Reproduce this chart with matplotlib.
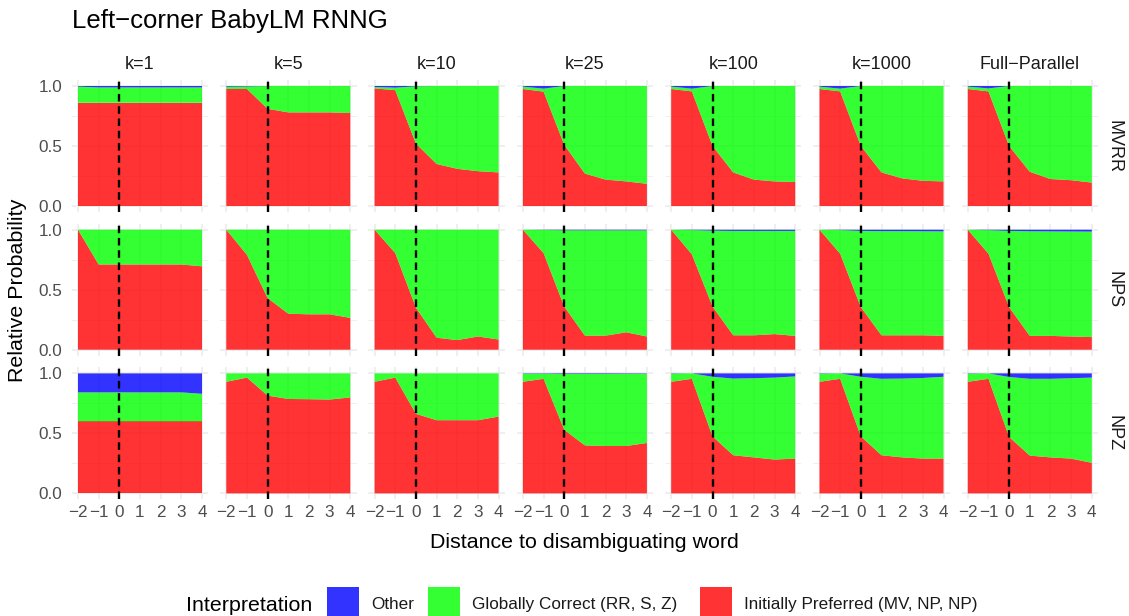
import numpy as np
import matplotlib.pyplot as plt
from matplotlib.patches import Rectangle

plt.rcParams['font.family'] = ['Liberation Sans', 'DejaVu Sans']

W, H = 1129, 616

x = [-2, -1, 0, 1, 2, 3, 4]
models = ['k=1', 'k=5', 'k=10', 'k=25', 'k=100', 'k=1000', 'Full\u2212Parallel']
constructions = ['MVRR', 'NPS', 'NPZ']

# initially preferred interpretation (MV, NP, NP), one list per model
mvrr_preferred = [
    [0.86, 0.86, 0.86, 0.86, 0.86, 0.86, 0.86],
    [0.975, 0.975, 0.81, 0.78, 0.78, 0.78, 0.775],
    [0.98, 0.965, 0.52, 0.35, 0.31, 0.29, 0.28],
    [0.975, 0.953, 0.51, 0.27, 0.22, 0.205, 0.185],
    [0.975, 0.955, 0.50, 0.28, 0.22, 0.205, 0.20],
    [0.975, 0.955, 0.50, 0.28, 0.23, 0.21, 0.205],
    [0.975, 0.955, 0.50, 0.285, 0.225, 0.215, 0.195],
]
nps_preferred = [
    [1.0, 0.71, 0.71, 0.71, 0.71, 0.71, 0.695],
    [1.0, 0.79, 0.43, 0.30, 0.295, 0.295, 0.265],
    [1.0, 0.805, 0.35, 0.10, 0.08, 0.11, 0.085],
    [1.0, 0.805, 0.36, 0.117, 0.117, 0.145, 0.11],
    [1.0, 0.795, 0.36, 0.12, 0.12, 0.13, 0.115],
    [1.0, 0.80, 0.355, 0.12, 0.12, 0.12, 0.115],
    [1.0, 0.80, 0.355, 0.115, 0.115, 0.11, 0.105],
]
npz_preferred = [
    [0.60, 0.60, 0.60, 0.60, 0.60, 0.60, 0.60],
    [0.93, 0.965, 0.815, 0.787, 0.785, 0.782, 0.80],
    [0.93, 0.965, 0.663, 0.61, 0.61, 0.61, 0.64],
    [0.93, 0.955, 0.53, 0.40, 0.395, 0.395, 0.42],
    [0.93, 0.955, 0.475, 0.318, 0.30, 0.282, 0.29],
    [0.93, 0.955, 0.475, 0.318, 0.30, 0.29, 0.29],
    [0.93, 0.955, 0.47, 0.315, 0.30, 0.29, 0.255],
]

# "other" interpretation; globally correct is the remainder
mvrr_other = [
    [0.005, 0.012, 0.012, 0.012, 0.012, 0.012, 0.012],
    [0.006, 0.004, 0.0, 0.0, 0.0, 0.0, 0.0],
    [0.008, 0.014, 0.002, 0.0, 0.0, 0.0, 0.0],
    [0.005, 0.022, 0.0, 0.0, 0.0, 0.0, 0.0],
    [0.005, 0.022, 0.0, 0.0, 0.0, 0.0, 0.0],
    [0.005, 0.022, 0.0, 0.0, 0.0, 0.0, 0.0],
    [0.005, 0.02, 0.0, 0.0, 0.0, 0.0, 0.0],
]
nps_other = [
    [0.0, 0.0, 0.0, 0.0, 0.0, 0.0, 0.0],
    [0.0, 0.0, 0.0, 0.0, 0.0, 0.0, 0.0],
    [0.0, 0.0, 0.0, 0.0, 0.0, 0.0, 0.0],
    [0.0, 0.002, 0.005, 0.005, 0.005, 0.005, 0.005],
    [0.0, 0.003, 0.008, 0.01, 0.01, 0.01, 0.01],
    [0.0, 0.003, 0.01, 0.012, 0.012, 0.013, 0.014],
    [0.0, 0.004, 0.01, 0.013, 0.014, 0.015, 0.016],
]
npz_other = [
    [0.158, 0.158, 0.158, 0.158, 0.158, 0.158, 0.17],
    [0.0, 0.0, 0.0, 0.0, 0.0, 0.0, 0.0],
    [0.0, 0.0, 0.0, 0.0, 0.0, 0.0, 0.0],
    [0.003, 0.003, 0.005, 0.005, 0.005, 0.004, 0.003],
    [0.003, 0.0, 0.028, 0.043, 0.04, 0.035, 0.025],
    [0.003, 0.0, 0.028, 0.045, 0.043, 0.038, 0.028],
    [0.003, 0.0, 0.03, 0.045, 0.045, 0.04, 0.035],
]

preferred = [mvrr_preferred, nps_preferred, npz_preferred]
other = [mvrr_other, nps_other, npz_other]

col_red, col_green, col_blue = '#FF0000', '#00FF00', '#0000FF'
grid_col = '#EBEBEB'
txt_col = '#4D4D4D'

fig = plt.figure(figsize=(W / 100, H / 100), dpi=100)

left0, col_step, pw = 71.8, 148.3, 136.4
top0, row_step, ph = 80, 143.7, 132

for r in range(3):
    for c in range(7):
        l = left0 + c * col_step
        t = top0 + r * row_step
        ax = fig.add_axes([l / W, 1 - (t + ph) / H, pw / W, ph / H])
        pref = np.array(preferred[r][c])
        oth = np.array(other[r][c])
        corr = 1 - pref - oth
        ax.stackplot(x, pref, corr, oth, colors=[col_red, col_green, col_blue],
                     alpha=0.8, linewidth=0, zorder=2)
        ax.axvline(0, color='black', lw=1.7, ls=(0, (3.2, 2.0)), zorder=3)
        ax.set_xlim(-2.3, 4.3)
        ax.set_ylim(-0.05, 1.05)
        ax.set_xticks(x)
        ax.set_yticks([0, 0.5, 1.0])
        ax.set_yticks([0.25, 0.75], minor=True)
        ax.grid(which='major', color=grid_col, lw=1.1, zorder=0)
        ax.grid(which='minor', axis='y', color=grid_col, lw=0.55, zorder=0)
        for s in ax.spines.values():
            s.set_visible(False)
        ax.tick_params(which='both', length=0, labelsize=12.3, labelcolor=txt_col)
        ax.tick_params(axis='y', pad=7)
        ax.tick_params(axis='x', pad=4)
        if c == 0:
            ax.set_yticklabels(['0.0', '0.5', '1.0'])
        else:
            ax.set_yticklabels([])
        if r == 2:
            ax.set_xticklabels([str(v).replace('-', '\u2212') for v in x])
        else:
            ax.set_xticklabels([])
        if r == 0:
            fig.text((l + pw / 2) / W, 1 - 69 / H, models[c], ha='center',
                     va='baseline', fontsize=13, color='#1A1A1A')
        if c == 6:
            fig.text(1114 / W, 1 - (t + ph / 2) / H, constructions[r], rotation=270,
                     ha='center', va='center', fontsize=13, color='#1A1A1A')

fig.text(72 / W, 1 - 28.3 / H, 'Left\u2212corner BabyLM RNNG', fontsize=18.5,
         va='baseline', ha='left')
fig.text(18 / W, 1 - 290 / H, 'Relative Probability', rotation=90, fontsize=15.4,
         ha='center', va='center')
fig.text(584 / W, 1 - 548 / H, 'Distance to disambiguating word', fontsize=15.4,
         ha='center', va='baseline')

# legend
fig.text(186 / W, 1 - 611 / H, 'Interpretation', fontsize=15.4, va='baseline')
legend_items = [('Other', col_blue, 327, 371),
                ('Globally Correct (RR, S, Z)', col_green, 428, 472),
                ('Initially Preferred (MV, NP, NP)', col_red, 700, 744)]
for label, colr, bx, tx in legend_items:
    fig.add_artist(Rectangle((bx / W, 1 - 619 / H), 32 / W, 32 / H,
                             transform=fig.transFigure, facecolor=colr,
                             alpha=0.8, edgecolor='none'))
    fig.text(tx / W, 1 - 609 / H, label, fontsize=12.3, va='baseline', color='#1A1A1A')

fig.savefig('out.png', dpi=100)
